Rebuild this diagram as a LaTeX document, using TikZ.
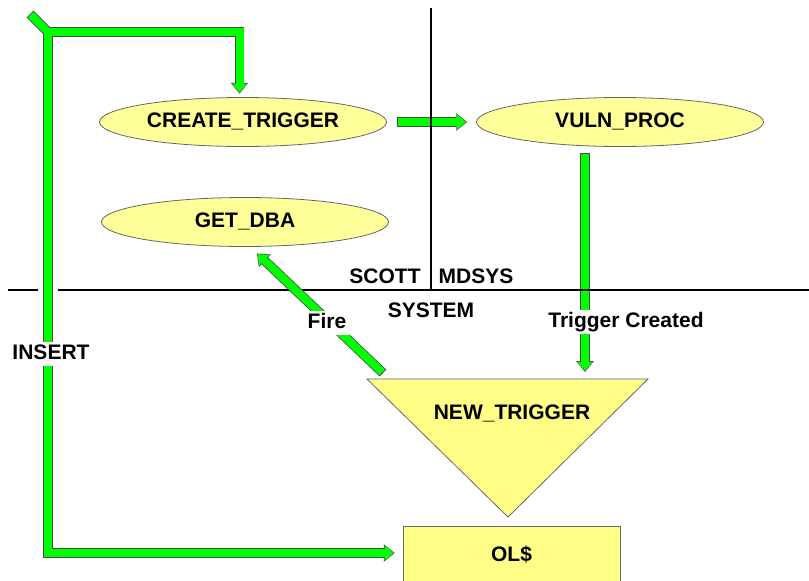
\documentclass[tikz,border=0pt]{standalone}
\usepackage{fontspec}
\setmainfont{Liberation Sans}
\usetikzlibrary{arrows.meta,shapes.geometric,calc}
\definecolor{flowgreen}{HTML}{00FF00}
\definecolor{rimgray}{HTML}{4A4A4A}
\definecolor{procyellow}{HTML}{FFFF99}
\definecolor{tankyellow}{HTML}{FFFF88}
\tikzset{head/.tip={Triangle[width=15pt,length=9pt,line width=0pt]},
  hood/.tip={Triangle[width=17.5pt,length=10.8pt,line width=0pt]}}

\begin{document}
\begin{tikzpicture}[x=1pt,y=-1pt,font=\fontsize{21}{25}\selectfont\bfseries,
  every node/.style={text height=15pt,text depth=4pt},
  proc/.style={ellipse,draw=black!60,line width=.8pt,fill=procyellow,minimum width=287pt,minimum height=49pt,inner sep=0pt},
  tank/.style={draw=black!60,line width=.8pt,fill=tankyellow},
  rim/.style={draw=rimgray,line width=9.6pt,shorten <=0pt,shorten >=0pt},
  core/.style={draw=flowgreen,line width=8pt,shorten <=1pt,shorten >=1pt},
  flow/.style={core,-head,preaction={rim,-hood}},
  flows/.style={core,head-head,preaction={rim,hood-hood}},
  gap/.style={fill=white,inner sep=2.5pt}]
  \useasboundingbox (0,0) rectangle (809,581);
  % schemas
  \node[proc] (create) at (243,122) {CREATE\_TRIGGER};
  \node[proc] (vuln) at (620,122) {VULN\_PROC};
  \node[proc] (getdba) at (245,222) {GET\_DBA};
  \filldraw[tank] (367,379) coordinate (tl) -- (648,379) coordinate (tr) -- (508,517) coordinate (tb) -- cycle;
  \node (newtrig) at (512,414) {NEW\_TRIGGER};
  \node[tank,minimum width=217pt,minimum height=60pt] (ol) at (511.5,556) {OL\$};
  % pipes
  \coordinate (spur) at (30,14);
  \coordinate (fork) at (48,32);
  \draw[rim] (spur) -- (fork);
  \draw[flows] ([shift={(-8,-3)}]ol.west) -| (fork) -| ([shift={(-3.5,-3.5)}]create.north);
  \draw[core] (spur) -- (fork);
  \draw[flow] ([xshift=10pt]create.east) -- ([xshift=-9pt]vuln.west);
  \draw[flow] ([shift={(-35,6)}]vuln.south) -- ($(vuln.south |- tl)+(-35,-7)$);
  % borders
  \draw[line width=1.8pt] (8,290) -- (38,290) (58,290) -- (809,290);
  \draw[line width=1.8pt] (431,8) -- (431,290);
  \draw[flow] ($(tl)+(16,-6)$) -- ([shift={(12,6.5)}]getdba.south);
  % labels
  \node[gap] (insert) at (51,354) {INSERT};
  \node[gap] (fire) at (327,323) {Fire};
  \node[gap] (created) at (626,322) {Trigger Created};
  \node (scott) at (385,278) {SCOTT};
  \node (mdsys) at (476,278) {MDSYS};
  \node (system) at (431,312) {SYSTEM};
\end{tikzpicture}
\end{document}
